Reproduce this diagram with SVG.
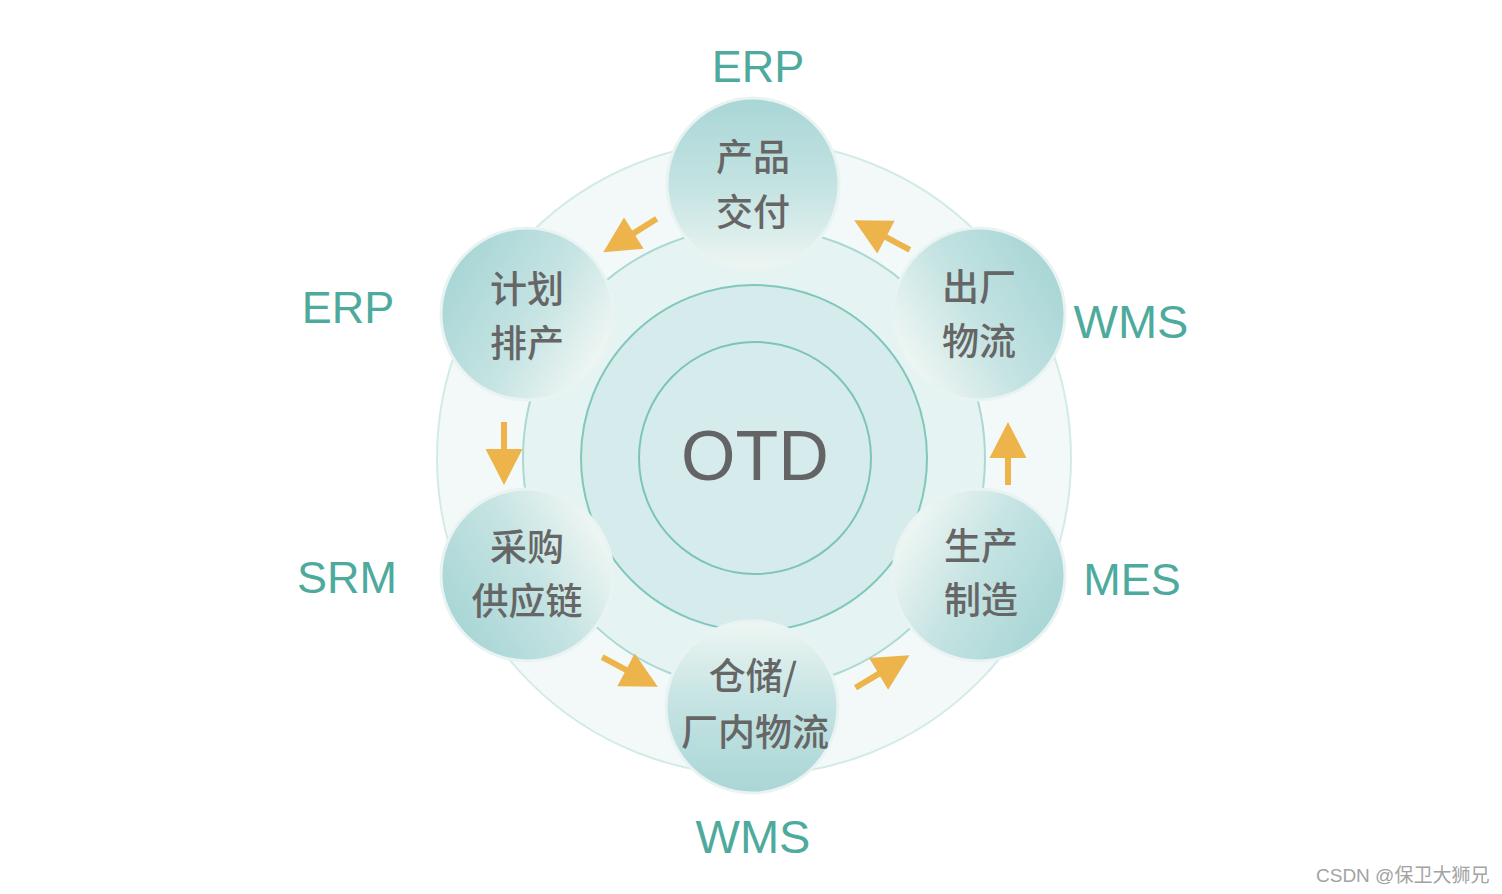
<svg xmlns="http://www.w3.org/2000/svg" width="1502" height="894" viewBox="0 0 1502 894">
<style>
.node-text{font-family:"Noto Sans CJK SC","Noto Sans",sans-serif;font-size:37px;font-weight:500;fill:#666666;text-anchor:middle}
.sys{font-family:"Liberation Sans",Arial,sans-serif;font-size:45px;fill:#4faa9e;text-anchor:middle}
.sys-w{font-size:47px}
.otd{font-family:"Liberation Sans",Arial,sans-serif;font-size:70px;fill:#646466;text-anchor:middle}
.node{stroke:#e9f4f2;stroke-width:3}
.arrow{fill:#ecb44b}
.wm{font-family:"Liberation Sans","Noto Sans CJK SC",sans-serif;font-size:19px;fill:#a3a3a3}
</style>
<defs>
<linearGradient id="gTop" gradientUnits="userSpaceOnUse" x1="753" y1="98" x2="753" y2="270"><stop offset="0" stop-color="#a9d6d6"/><stop offset="0.55" stop-color="#c6e4e3"/><stop offset="1" stop-color="#eef6f3"/></linearGradient>
<linearGradient id="gBot" gradientUnits="userSpaceOnUse" x1="752" y1="793" x2="752" y2="621"><stop offset="0" stop-color="#a9d6d6"/><stop offset="0.55" stop-color="#c6e4e3"/><stop offset="1" stop-color="#eef6f3"/></linearGradient>
<linearGradient id="gTL" gradientUnits="userSpaceOnUse" x1="454" y1="270" x2="600" y2="358"><stop offset="0" stop-color="#a9d6d6"/><stop offset="0.55" stop-color="#c6e4e3"/><stop offset="1" stop-color="#eef6f3"/></linearGradient>
<linearGradient id="gTR" gradientUnits="userSpaceOnUse" x1="1052" y1="270" x2="906" y2="358"><stop offset="0" stop-color="#a9d6d6"/><stop offset="0.55" stop-color="#c6e4e3"/><stop offset="1" stop-color="#eef6f3"/></linearGradient>
<linearGradient id="gBL" gradientUnits="userSpaceOnUse" x1="454" y1="619" x2="600" y2="531"><stop offset="0" stop-color="#a9d6d6"/><stop offset="0.55" stop-color="#c6e4e3"/><stop offset="1" stop-color="#eef6f3"/></linearGradient>
<linearGradient id="gBR" gradientUnits="userSpaceOnUse" x1="1052" y1="619" x2="906" y2="531"><stop offset="0" stop-color="#a9d6d6"/><stop offset="0.55" stop-color="#c6e4e3"/><stop offset="1" stop-color="#eef6f3"/></linearGradient>
<path id="arr" d="M-31.5,-3 L-4.5,-3 L-4.5,-18.5 L31.5,0 L-4.5,18.5 L-4.5,3 L-31.5,3 Z"/>
</defs>
<rect width="1502" height="894" fill="#ffffff"/>

<g id="rings">
<circle cx="754" cy="458" r="317" fill="#f3f9f9" stroke="#d3ebe7" stroke-width="2"/>
<circle cx="754" cy="458" r="231" fill="#e5f3f2" stroke="#a9d9d2" stroke-width="2"/>
<circle cx="754" cy="458" r="173" fill="#d6ecec" stroke="#80c7bc" stroke-width="2"/>
<circle cx="755" cy="458" r="116" fill="#d6ecec" stroke="#7cc4b9" stroke-width="2"/>
</g>

<g id="otd">
<text class="otd" x="755" y="480">OTD</text>
</g>

<g id="connectors">
<use href="#arr" class="arrow" transform="translate(630,235.5) rotate(148)"/>
<use href="#arr" class="arrow" transform="translate(882,235) rotate(208)"/>
<use href="#arr" class="arrow" transform="translate(504,453.5) rotate(90)"/>
<use href="#arr" class="arrow" transform="translate(1008,453.5) rotate(-90)"/>
<use href="#arr" class="arrow" transform="translate(630,672) rotate(28)"/>
<use href="#arr" class="arrow" transform="translate(882.5,671.5) rotate(-31)"/>
</g>

<g id="node-product-delivery">
<circle class="node" cx="753" cy="184" r="86" fill="url(#gTop)"/>
<text class="node-text" x="753" y="171">产品</text>
<text class="node-text" x="753" y="226">交付</text>
</g>
<g id="node-planning">
<circle class="node" cx="527" cy="314" r="86" fill="url(#gTL)"/>
<text class="node-text" x="527" y="303">计划</text>
<text class="node-text" x="527" y="357">排产</text>
</g>
<g id="node-shipping">
<circle class="node" cx="979" cy="314" r="86" fill="url(#gTR)"/>
<text class="node-text" x="979" y="301">出厂</text>
<text class="node-text" x="979" y="355">物流</text>
</g>
<g id="node-procurement">
<circle class="node" cx="527" cy="575" r="86" fill="url(#gBL)"/>
<text class="node-text" x="527" y="561">采购</text>
<text class="node-text" x="527" y="615">供应链</text>
</g>
<g id="node-manufacturing">
<circle class="node" cx="979" cy="575" r="86" fill="url(#gBR)"/>
<text class="node-text" x="981" y="560">生产</text>
<text class="node-text" x="981" y="614">制造</text>
</g>
<g id="node-warehouse">
<circle class="node" cx="752" cy="707" r="86" fill="url(#gBot)"/>
<text class="node-text" x="753" y="690">仓储/</text>
<text class="node-text" x="755" y="746">厂内物流</text>
</g>

<g id="labels">
<text class="sys" x="758" y="82">ERP</text>
<text class="sys" x="348" y="323">ERP</text>
<text class="sys" x="347" y="593">SRM</text>
<text class="sys sys-w" x="1131" y="338">WMS</text>
<text class="sys" x="1132" y="595">MES</text>
<text class="sys sys-w" x="753" y="853">WMS</text>
</g>

<text class="wm" x="1316" y="882">CSDN @保卫大狮兄</text>
</svg>
